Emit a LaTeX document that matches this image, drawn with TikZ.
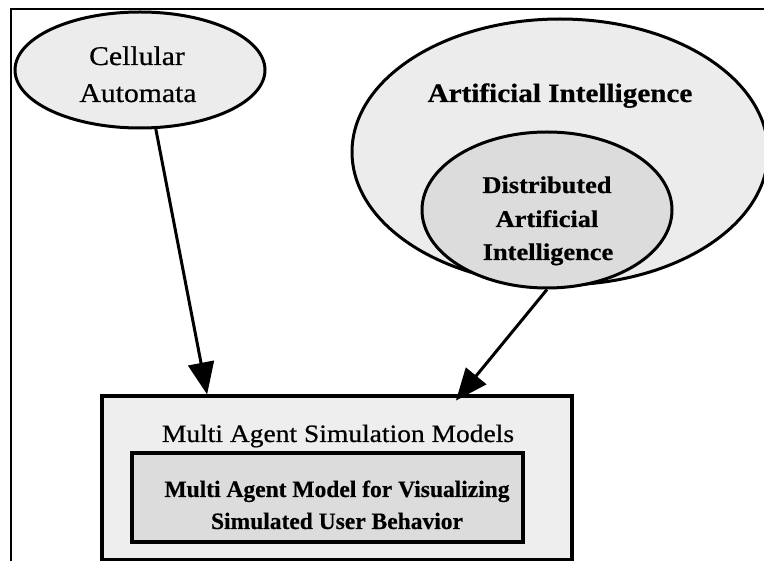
\documentclass[tikz,border=0pt]{standalone}
\usepackage{fontspec}
\setmainfont{Liberation Serif}
\newfontfamily\widefont[FakeStretch=1.1,FakeBold=0.6]{Liberation Serif}
\newfontfamily\plainfont[FakeBold=0.4]{Liberation Serif}
\usetikzlibrary{shapes.geometric,arrows.meta,calc}
\definecolor{lightfill}{HTML}{ECECEC}
\definecolor{midfill}{HTML}{DCDCDC}
\definecolor{boxfill}{HTML}{EEEEEE}
\tikzset{
  oval/.style={ellipse, draw, line width=3pt, inner sep=0pt},
  panel/.style={rectangle, draw, line width=3.2pt, inner sep=0pt},
  txt/.style={anchor=base, inner sep=0pt},
  flow/.style={line width=3pt, -{Triangle[length=32pt,width=26pt]}},
}
\begin{document}
\begin{tikzpicture}[x=1pt,y=-1pt]
\useasboundingbox (0,0) rectangle (764,561);
\clip (0,0) rectangle (764,561);
\fill[white] (0,0) rectangle (764,561);

% outer frame (left and top edges)
\draw[line width=2.4pt] (11,561) -- (11,9) -- (764,9);

% ellipses
\node[oval, fill=lightfill, minimum width=250pt, minimum height=116pt] (ca) at (140,70) {};
\node[oval, fill=lightfill, minimum width=416pt, minimum height=266pt] (ai) at (560,152) {};
\node[oval, fill=midfill, minimum width=250pt, minimum height=156pt] (dai) at (547,210) {};

% boxes
\node[panel, fill=boxfill, minimum width=470pt, minimum height=164pt] (msm) at (337,478) {};
\node[panel, fill=midfill, minimum width=391pt, minimum height=89pt] (mam) at (327.5,497.5) {};

% texts
\node[txt] (ca1) at (137,65) {\fontsize{27}{30}\selectfont\widefont Cellular};
\node[txt] (ca2) at (138,102) {\fontsize{27}{30}\selectfont\widefont Automata};
\node[txt] (ai1) at (560,102) {\fontsize{26.5}{30}\selectfont\widefont\bfseries Artificial Intelligence};
\node[txt] (dai1) at (547,193) {\fontsize{24}{28}\selectfont\widefont\bfseries Distributed};
\node[txt] (dai2) at (547,227) {\fontsize{24}{28}\selectfont\widefont\bfseries Artificial};
\node[txt] (dai3) at (548,260) {\fontsize{24}{28}\selectfont\widefont\bfseries Intelligence};
\node[txt] (msm1) at (338,442) {\fontsize{25}{28}\selectfont\widefont Multi Agent Simulation Models};
\node[txt] (mam1) at (337,497) {\fontsize{23.5}{26}\selectfont\plainfont\bfseries Multi Agent Model for Visualizing};
\node[txt] (mam2) at (337,529) {\fontsize{23.5}{26}\selectfont\plainfont\bfseries Simulated User Behavior};

% connectors
\coordinate (tipA) at ($(msm.north west)!0.2255!(msm.north east)$);
\coordinate (tipB) at ($(msm.north west)!0.762!(msm.north east)$);
\draw[flow] (ca.-75) -- (tipA);
\draw[flow, shorten >=-8pt] (dai.south) -- (tipB);
\end{tikzpicture}
\end{document}
